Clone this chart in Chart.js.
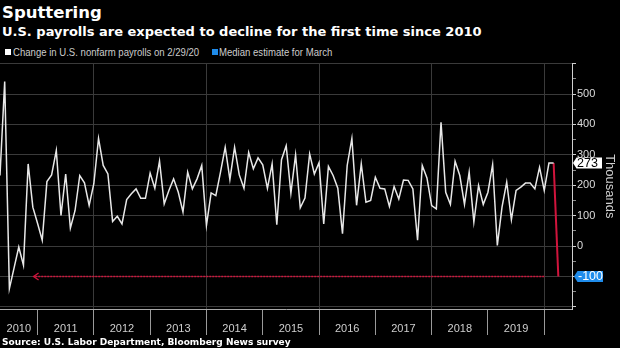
<!DOCTYPE html>
<html>
<head>
<meta charset="utf-8">
<script src="https://cdn.jsdelivr.net/npm/chart.js@4.4.1/dist/chart.umd.min.js"></script>
<style>
  html, body { margin: 0; padding: 0; background: #000; }
  body { width: 620px; height: 348px; position: relative; overflow: hidden; color: #fff; }
  .title { position: absolute; left: 2px; top: 5px; font: bold 16.5px/16.5px "DejaVu Sans", sans-serif; white-space: nowrap; }
  .subtitle { position: absolute; left: 2px; top: 24.5px; font: bold 13px/13px "DejaVu Sans", sans-serif; white-space: nowrap; }
  .legend { position: absolute; top: 46.5px; font: 11px/11px "Liberation Sans", sans-serif; color: #ccc; white-space: nowrap; transform: scaleX(0.87); transform-origin: left center; }
  .sq { position: absolute; top: 49px; width: 6px; height: 6px; }
  .source { position: absolute; left: 2px; top: 337px; font: bold 9.5px/9.5px "DejaVu Sans", sans-serif; white-space: nowrap; transform: scaleX(0.95); transform-origin: left center; }
  #wrap { position: absolute; left: 0; top: 56px; width: 620px; height: 292px; }
</style>
</head>
<body>
<div class="title">Sputtering</div>
<div class="subtitle">U.S. payrolls are expected to decline for the first time since 2010</div>
<div class="sq" style="left:4.5px; background:#fff"></div>
<div class="legend" style="left:13px">Change in U.S. nonfarm payrolls on 2/29/20</div>
<div class="sq" style="left:211.5px; background:#1f8ceb"></div>
<div class="legend" style="left:218.5px">Median estimate for March</div>
<div id="wrap"><canvas id="chart"></canvas></div>
<div class="source">Source: U.S. Labor Department, Bloomberg News survey</div>
<script>
// monthly change in nonfarm payrolls, thousands, Apr 2010 .. Feb 2020
const firstMonth = [2010, 4];
const payrolls = [
  232, 541, -140, -72, -3, -63, 270, 128, 75,
  19, 212, 234, 314, 101, 237, 59, 117, 232, 208, 134, 205,
  354, 265, 237, 81, 98, 73, 153, 172, 188, 157, 157, 240,
  190, 279, 139, 183, 221, 177, 112, 243, 188, 221, 265, 68,
  175, 166, 243, 325, 219, 325, 234, 190, 308, 254, 290, 267,
  190, 270, 70, 284, 330, 174, 300, 126, 158, 303, 237, 274,
  73, 262, 232, 190, 41, 265, 354, 134, 270, 144, 150, 226,
  190, 188, 130, 196, 155, 217, 216, 188, 19, 265, 224, 133,
  122, 407, 177, 137, 279, 232, 137, 243, 79, 199, 137, 177,
  268, 2, 128, 210, 87, 183, 194, 207, 207, 188, 259, 183,
  273, 273
];
// median estimate for March 2020
const estimate = -100;
const years = [2010, 2011, 2012, 2013, 2014, 2015, 2016, 2017, 2018, 2019];
const yLabels = [0, 100, 200, 300, 400, 500];
const arrowFrom = 2020.0;
const arrowTo = 2010.93;

const xMin = firstMonth[0] + firstMonth[1] / 12;
const xMax = 2020.493;

// month-end position as decimal year
const monthPos = (i) => firstMonth[0] + (firstMonth[1] + i) / 12;
const payrollPoints = payrolls.map((v, i) => ({ x: monthPos(i), y: v }));
const lastIdx = payrolls.length - 1;
const estimatePoints = [
  { x: monthPos(lastIdx), y: payrolls[lastIdx] },
  { x: monthPos(lastIdx + 1), y: estimate }
];
const arrowPoints = [{ x: arrowFrom, y: estimate }, { x: arrowTo, y: estimate }];

const red = '#d0143c';
const blue = '#1f8ceb';

function drawTag(ctx, x, y, text, bg, fg) {
  const h = 11, w = 29;
  ctx.save();
  ctx.fillStyle = bg;
  ctx.beginPath();
  ctx.moveTo(x, y);
  ctx.lineTo(x + 3.5, y - h / 2);
  ctx.lineTo(x + w, y - h / 2);
  ctx.lineTo(x + w, y + h / 2);
  ctx.lineTo(x + 3.5, y + h / 2);
  ctx.closePath();
  ctx.fill();
  ctx.fillStyle = fg;
  ctx.font = '12.5px "Liberation Sans", sans-serif';
  ctx.textBaseline = 'middle';
  ctx.textAlign = 'left';
  ctx.fillText(text, x + 4, y + 0.5);
  ctx.restore();
}

const tagsPlugin = {
  id: 'tags',
  afterDatasetsDraw(chart) {
    const ctx = chart.ctx;
    // arrow head at the left end of the dotted line
    const tip = chart.getDatasetMeta(2).data[1];
    ctx.save();
    ctx.strokeStyle = red;
    ctx.lineWidth = 1.3;
    ctx.beginPath();
    ctx.moveTo(tip.x + 5, tip.y - 3.5);
    ctx.lineTo(tip.x, tip.y);
    ctx.lineTo(tip.x + 5, tip.y + 3.5);
    ctx.stroke();
    ctx.restore();
  },
  afterDraw(chart) {
    const ctx = chart.ctx;
    const ys = chart.scales.y;
    const x = chart.chartArea.right + 1;
    drawTag(ctx, x, ys.getPixelForValue(payrolls[lastIdx]), String(payrolls[lastIdx]), '#fff', '#000');
    drawTag(ctx, x + 1, ys.getPixelForValue(estimate), String(estimate), blue, '#fff');
  }
};

new Chart(document.getElementById('chart'), {
  type: 'line',
  data: {
    datasets: [
      { data: payrollPoints, borderColor: '#e8e8e8', borderWidth: 1.5, pointRadius: 0, tension: 0 },
      { data: estimatePoints, borderColor: red, borderWidth: 2, pointRadius: 0, tension: 0 },
      { data: arrowPoints, borderColor: red, borderWidth: 1.5, borderDash: [2, 1], pointRadius: 0 }
    ]
  },
  options: {
    responsive: true,
    maintainAspectRatio: false,
    animation: false,
    layout: { padding: { top: 5.5, left: 0, right: 0, bottom: 0 } },
    plugins: { legend: { display: false }, tooltip: { enabled: false } },
    scales: {
      x: {
        type: 'linear',
        min: xMin,
        max: xMax,
        afterBuildTicks: (scale) => {
          const t = [];
          years.forEach((yr) => {
            const a = Math.max(yr, xMin), b = Math.min(yr + 1, xMax);
            t.push({ value: (a + b) / 2 });
            t.push({ value: yr + 1 });
          });
          scale.ticks = t;
        },
        afterFit: (scale) => { scale.height = 39; },
        grid: {
          color: (c) => (c.tick && Number.isInteger(c.tick.value) && c.tick.value % 2 === 0) ? '#3a3a3a' : 'rgba(0,0,0,0)',
          tickColor: (c) => (c.tick && Number.isInteger(c.tick.value)) ? '#9a9a9a' : 'rgba(0,0,0,0)',
          tickLength: 26,
          lineWidth: 1
        },
        border: { color: '#aaa', width: 1 },
        ticks: {
          autoSkip: false,
          maxRotation: 0,
          padding: -12.6,
          color: '#cfcfcf',
          font: { family: '"Liberation Sans", sans-serif', size: 11 },
          callback: (v) => Number.isInteger(v) ? '' : String(Math.floor(v))
        }
      },
      y: {
        position: 'right',
        min: -207,
        max: 600,
        afterBuildTicks: (scale) => {
          const t = [];
          for (let v = -200; v <= 600; v += 50) t.push({ value: v });
          scale.ticks = t;
        },
        afterFit: (scale) => { scale.width = 48; },
        grid: {
          color: (c) => (c.tick && c.tick.value % 100 === 0) ? '#3a3a3a' : 'rgba(0,0,0,0)',
          tickColor: (c) => (c.tick && c.tick.value % 100 === 0) ? '#cfcfcf' : '#8a8a8a',
          tickLength: 4,
          lineWidth: 1
        },
        border: { color: '#cfcfcf', width: 1 },
        ticks: {
          autoSkip: false,
          padding: 1,
          color: '#dcdcdc',
          font: { family: '"Liberation Sans", sans-serif', size: 11 },
          callback: (v) => yLabels.includes(v) ? String(v) : ''
        },
        title: {
          display: true,
          text: 'Thousands',
          color: '#cfcfcf',
          font: { family: '"Liberation Sans", sans-serif', size: 13 },
          padding: { top: 3, bottom: 0 }
        }
      }
    }
  },
  plugins: [tagsPlugin]
});
</script>
</body>
</html>
